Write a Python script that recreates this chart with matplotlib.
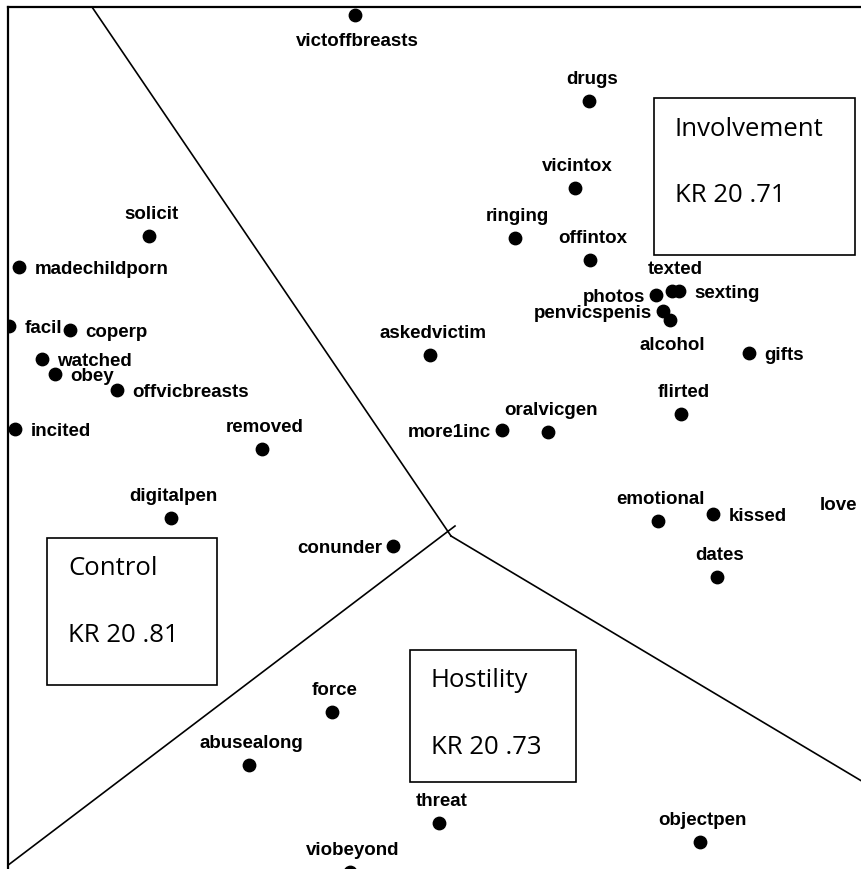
import matplotlib.pyplot as plt
from matplotlib.patches import Rectangle

# MDS map coordinates (read in image pixel units, y grows downward)
items = ["victoffbreasts", "drugs", "vicintox", "ringing", "offintox", "texted",
         "sexting", "photos", "penvicspenis", "alcohol", "gifts", "flirted",
         "oralvicgen", "more1inc", "askedvictim", "emotional", "kissed", "love",
         "dates", "conunder", "digitalpen", "removed", "solicit", "madechildporn",
         "facil", "coperp", "watched", "obey", "offvicbreasts", "incited",
         "force", "abusealong", "threat", "viobeyond", "objectpen"]
x = [355, 589, 575, 515, 590, 672, 679, 656, 663, 670, 749, 681,
     548, 502, 430, 658, 713, 868, 717, 393, 171, 262, 149, 19,
     9, 70, 42, 55, 117, 15, 332, 249, 439, 350, 700]
y = [16, 102, 189, 239, 261, 292, 292, 296, 312, 321, 354, 415,
     433, 431, 356, 522, 515, 504, 578, 547, 519, 450, 237, 268,
     327, 331, 360, 375, 391, 430, 713, 766, 824, 873, 843]

side = {"victoffbreasts": "below", "alcohol": "below", "sexting": "right",
        "gifts": "right", "kissed": "right", "madechildporn": "right",
        "facil": "right", "coperp": "right", "watched": "right", "obey": "right",
        "offvicbreasts": "right", "incited": "right", "photos": "left",
        "penvicspenis": "left", "more1inc": "left", "conunder": "left",
        "love": "left"}

scales = ["Involvement", "Control", "Hostility"]
kr20 = [".71", ".81", ".73"]
boxes = [(654, 99, 201, 157), (47, 539, 170, 147), (410, 651, 166, 132)]

# region boundaries
borders = [[(92, 8), (451, 537)], [(3, 870), (455, 527)], [(451, 537), (870, 787)]]

fig = plt.figure(figsize=(8.62, 8.70), dpi=100)
ax = fig.add_axes([8 / 862, 0, 854 / 862, 862 / 870])
ax.set_xlim(8, 862)
ax.set_ylim(870, 8)
ax.set_xticks([])
ax.set_yticks([])
ax.spines.right.set_visible(False)
ax.spines.bottom.set_visible(False)
ax.spines.left.set_linewidth(1.6)
ax.spines.top.set_linewidth(1.6)

for (p, q) in borders:
    ax.plot([p[0], q[0]], [p[1], q[1]], color="black", linewidth=1.2)

ax.scatter(x, y, s=80, color="black", zorder=3, clip_on=True)

offsets = {"above": ((2, 16), "center"), "below": ((2, -18), "center"),
           "right": ((11, -1), "left"), "left": ((-8, -1), "right")}
for name, xi, yi in zip(items, x, y):
    (dx, dy), ha = offsets[side.get(name, "above")]
    ax.annotate(name, (xi, yi), xytext=(dx, dy), textcoords="offset points",
                ha=ha, va="center", fontsize=13.5, fontweight="bold",
                family="Liberation Sans", annotation_clip=False)

for name, kr, (bx, by, bw, bh) in zip(scales, kr20, boxes):
    ax.add_patch(Rectangle((bx, by), bw, bh, fill=False, edgecolor="black",
                           linewidth=1.2))
    ax.text(bx + 21, by + 30, name, fontsize=18.5, family="Open Sans", va="center")
    ax.text(bx + 21, by + 97, "KR 20 " + kr, fontsize=18.5, family="Open Sans",
            va="center")

fig.savefig("out.png", dpi=100)
